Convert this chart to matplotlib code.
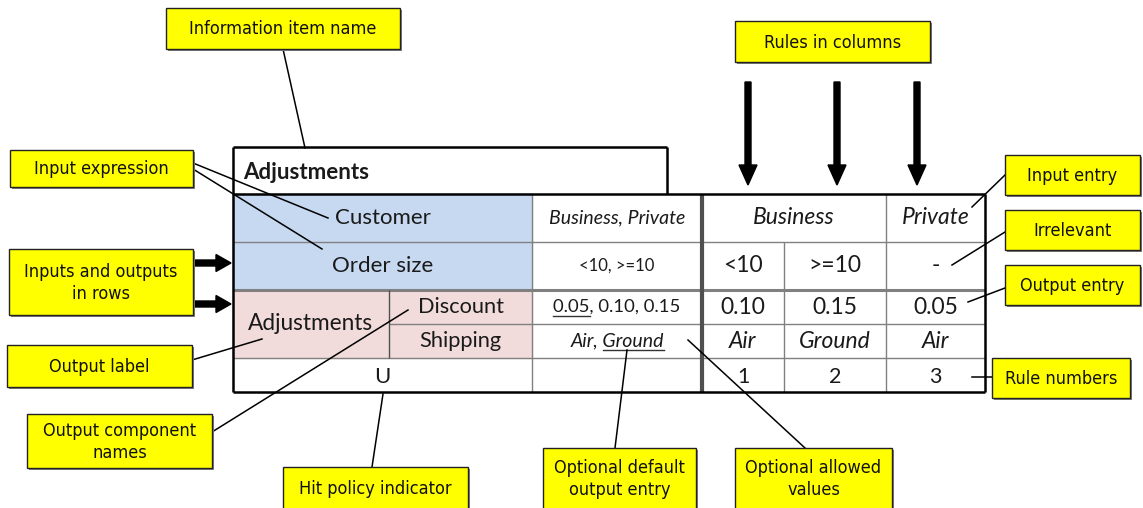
import matplotlib.pyplot as plt
from matplotlib import font_manager
from matplotlib.patches import Rectangle, FancyArrow

# decision table content
table_name = "Adjustments"
hit_policy = "U"
input_names = ["Customer", "Order size"]
input_values = ["Business, Private", "<10, >=10"]
output_label = "Adjustments"
output_names = ["Discount", "Shipping"]
output_values = ["0.05, 0.10, 0.15", "Air, Ground"]
output_defaults = ["0.05", "Ground"]
rule_customer = ["Business", "Business", "Private"]
rule_order_size = ["<10", ">=10", "-"]
rule_discount = ["0.10", "0.15", "0.05"]
rule_shipping = ["Air", "Ground", "Air"]
rule_numbers = ["1", "2", "3"]

# yellow callouts: text, box (x0, y0, x1, y1), leader lines
callout_text = [
    "Information item name", "Rules in columns", "Input expression",
    "Inputs and outputs\nin rows", "Output label", "Output component\nnames",
    "Hit policy indicator", "Optional default\noutput entry",
    "Optional allowed\nvalues", "Input entry", "Irrelevant", "Output entry",
    "Rule numbers",
]
callout_box = [
    (166, 8, 400, 49), (735, 21, 930, 62), (10, 150, 193, 187),
    (9, 249, 193, 315), (7, 345, 192, 387), (27, 414, 212, 468),
    (283, 467, 468, 512), (543, 448, 696, 512), (735, 448, 892, 512),
    (1005, 155, 1140, 195), (1005, 210, 1140, 250), (1005, 265, 1140, 305),
    (992, 358, 1130, 398),
]
callout_lines = [
    [((283, 49), (305, 148))],
    [],
    [((193, 163), (328, 218)), ((193, 169), (322, 249))],
    [],
    [((192, 360), (262, 339))],
    [((212, 432), (408, 310))],
    [((372, 467), (383, 394))],
    [((615, 448), (627, 350))],
    [((805, 448), (688, 340))],
    [((1005, 175), (972, 207))],
    [((1005, 232), (952, 265))],
    [((1005, 288), (968, 302))],
    [((992, 377), (972, 377))],
]

# table geometry (pixels)
X_LEFT, X_SPLIT, X_ALLOWED, X_RULES, X_RIGHT = 233, 389, 532, 702, 985
RULE_EDGES = [702, 784, 886, 985]
RULE_ARROW_X = [748, 837, 917]
ROW_EDGES = [194, 242, 290, 324, 358, 392]
TITLE_TOP, TITLE_RIGHT = 147, 667

TABLE_FONT = ["Lato", "DejaVu Sans"]

# narrow sans for the callouts, whichever is installed
NOTE_FONT, NOTE_STRETCH, NOTE_SIZE = ["Liberation Sans", "DejaVu Sans"], "normal", 12.5
for fam, st in [("Liberation Sans Narrow", "normal"), ("DejaVu Sans", "condensed")]:
    try:
        p = font_manager.findfont(font_manager.FontProperties(family=fam, stretch=st),
                                  fallback_to_default=False)
        if "Narrow" in p or "Condensed" in p:
            NOTE_FONT, NOTE_STRETCH, NOTE_SIZE = [fam, "DejaVu Sans"], st, 13
            break
    except Exception:
        pass

fig = plt.figure(figsize=(11.43, 5.08), dpi=100)
ax = fig.add_axes([0, 0, 1, 1])
ax.set_xlim(0, 1143)
ax.set_ylim(508, 0)
ax.axis("off")


def txt(x, y, s, size=16, italic=False, bold=False, ha="center", family=TABLE_FONT):
    return ax.text(x, y, s, ha=ha, va="center", fontsize=size, family=family,
                   style="italic" if italic else "normal",
                   weight="bold" if bold else "normal", color="#1a1a1a", zorder=5)


def hline(y, x0, x1, lw=1.0, c="#808080"):
    ax.plot([x0, x1], [y, y], color=c, lw=lw, zorder=3, solid_capstyle="butt")


def vline(x, y0, y1, lw=1.0, c="#808080"):
    ax.plot([x, x], [y0, y1], color=c, lw=lw, zorder=3, solid_capstyle="butt")


# fills
ax.add_patch(Rectangle((X_LEFT, ROW_EDGES[0]), X_ALLOWED - X_LEFT, ROW_EDGES[2] - ROW_EDGES[0],
                       color="#c6d9f1", zorder=1))
ax.add_patch(Rectangle((X_LEFT, ROW_EDGES[2]), X_ALLOWED - X_LEFT, ROW_EDGES[4] - ROW_EDGES[2],
                       color="#f2dcdb", zorder=1))

# inner grid
hline(ROW_EDGES[1], X_LEFT, X_RIGHT)
hline(ROW_EDGES[2], X_LEFT, X_RIGHT, lw=2.2)
hline(ROW_EDGES[3], X_SPLIT, X_RIGHT)
hline(ROW_EDGES[4], X_LEFT, X_RIGHT)
vline(X_SPLIT, ROW_EDGES[2], ROW_EDGES[4], c="#505050")
vline(X_ALLOWED, ROW_EDGES[0], ROW_EDGES[-1])
vline(X_RULES, ROW_EDGES[0], ROW_EDGES[-1], lw=3.0, c="#505050")
for i, x in enumerate(RULE_EDGES[1:-1]):
    top = ROW_EDGES[0]
    if rule_customer[i] == rule_customer[i + 1]:
        top = ROW_EDGES[1]
    vline(x, top, ROW_EDGES[-1])

# outer borders
vline(X_LEFT, TITLE_TOP, ROW_EDGES[-1], lw=1.8, c="black")
vline(TITLE_RIGHT, TITLE_TOP, ROW_EDGES[0], lw=1.8, c="black")
hline(TITLE_TOP, X_LEFT, TITLE_RIGHT, lw=1.8, c="black")
hline(ROW_EDGES[0], X_LEFT, X_RIGHT, lw=1.8, c="black")
hline(ROW_EDGES[-1], X_LEFT, X_RIGHT, lw=1.8, c="black")
vline(X_RIGHT, ROW_EDGES[0], ROW_EDGES[-1], lw=1.8, c="black")

# texts
txt(X_LEFT + 10, (TITLE_TOP + ROW_EDGES[0]) / 2 + 2, table_name, size=16, bold=True, ha="left")
mid = lambda i: (ROW_EDGES[i] + ROW_EDGES[i + 1]) / 2
for i, name in enumerate(input_names):
    txt((X_LEFT + X_ALLOWED) / 2, mid(i), name)
txt((X_LEFT + X_SPLIT) / 2, ROW_EDGES[3], output_label, size=16.3)
for i, name in enumerate(output_names):
    txt((X_SPLIT + X_ALLOWED) / 2, mid(i + 2), name, size=15.7)
txt((X_LEFT + X_ALLOWED) / 2, mid(4) + 2, hit_policy)

italic_rows = [True, False, False, True]
allowed = input_values + output_values
allowed_size = [14, 12, 13.3, 14]
allowed_text = []
for i, s in enumerate(allowed):
    allowed_text.append(txt((X_ALLOWED + X_RULES) / 2, mid(i), s, size=allowed_size[i],
                            italic=italic_rows[i]))

rule_rows = [rule_customer, rule_order_size, rule_discount, rule_shipping, rule_numbers]
row_italic = italic_rows + [False]
for r, vals in enumerate(rule_rows):
    j = 0
    while j < len(vals):
        k = j
        while r == 0 and k + 1 < len(vals) and vals[k + 1] == vals[j]:
            k += 1
        xc = (RULE_EDGES[j] + RULE_EDGES[k + 1]) / 2
        y = mid(r) + (2 if r == 4 else 0)
        txt(xc, y, vals[j], size=16.5 if r != 4 else 15.5, italic=row_italic[r])
        j = k + 1

# underline default output entries
fig.canvas.draw()
rend = fig.canvas.get_renderer()
inv = ax.transData.inverted()
for i, d in enumerate(output_defaults):
    t = allowed_text[2 + i]
    full = t.get_text()
    bb = t.get_window_extent(rend)
    start = full.index(d)
    probe = ax.text(0, 0, full[:start], fontsize=t.get_fontsize(), family=TABLE_FONT,
                    style=t.get_style())
    w0 = probe.get_window_extent(rend).width if start else 0
    probe.set_text(full[:start + len(d)])
    w1 = probe.get_window_extent(rend).width
    probe.remove()
    x0 = inv.transform((bb.x0 + w0, bb.y0))[0]
    x1 = inv.transform((bb.x0 + w1, bb.y0))[0]
    y = mid(2 + i) + 9
    ax.plot([x0, x1], [y, y], color="#333333", lw=1.0, zorder=5)

# rule arrows and row arrows
for xc in RULE_ARROW_X:
    ax.add_patch(FancyArrow(xc, 82, 0, 103, width=6, head_width=18, head_length=20,
                            length_includes_head=True, color="black", zorder=4))
for y in (263, 304):
    ax.add_patch(FancyArrow(193, y, 38, 0, width=6, head_width=17, head_length=15,
                            length_includes_head=True, color="black", zorder=4))

# callouts
for s, (x0, y0, x1, y1), lines in zip(callout_text, callout_box, callout_lines):
    ax.add_patch(Rectangle((x0 + 2, y0 + 2), x1 - x0, y1 - y0, facecolor="#7f7f7f",
                           edgecolor="none", zorder=6))
    ax.add_patch(Rectangle((x0, y0), x1 - x0, y1 - y0, facecolor="#ffff00",
                           edgecolor="#222222", lw=1.0, zorder=7))
    ax.text((x0 + x1) / 2, (y0 + min(y1, 508)) / 2 + 1, s, ha="center", va="center",
            fontsize=NOTE_SIZE, family=NOTE_FONT, stretch=NOTE_STRETCH, linespacing=1.35,
            color="#111111", zorder=8)
    for (a, b) in lines:
        ax.plot([a[0], b[0]], [a[1], b[1]], color="black", lw=1.1, zorder=5)

fig.savefig("out.png", dpi=100)
